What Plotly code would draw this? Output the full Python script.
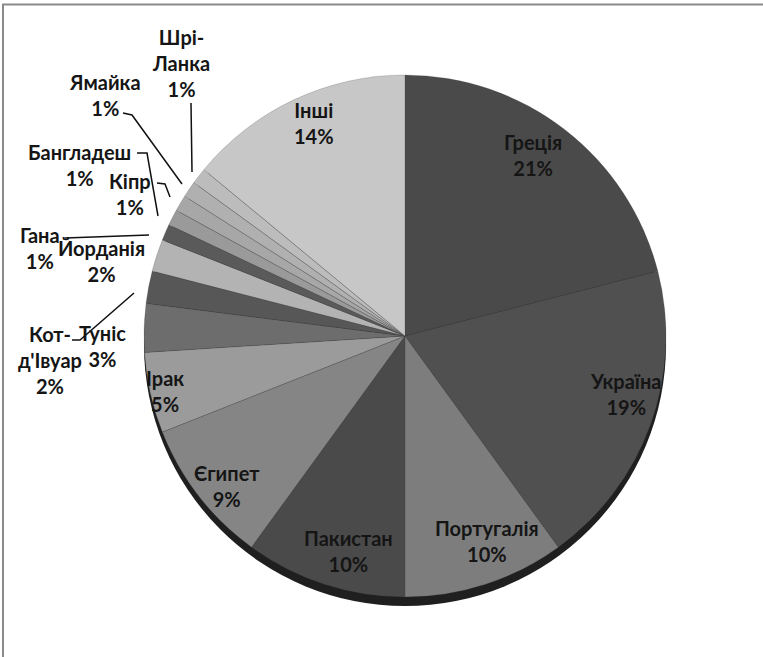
import plotly.graph_objects as go

# Share of each country, clockwise from 12 o'clock
countries = ["Греція", "Україна", "Португалія", "Пакистан", "Єгипет", "Ірак",
             "Туніс", "Кот-д'Івуар", "Йорданія", "Гана", "Бангладеш", "Кіпр",
             "Ямайка", "Шрі-Ланка", "Інші"]
shares = [21, 19, 10, 10, 9, 5, 3, 2, 2, 1, 1, 1, 1, 1, 14]
slice_colors = ["#4a4a4a", "#505050", "#7d7d7d", "#4a4a4a", "#858585", "#9b9b9b",
                "#6d6d6d", "#575757", "#b3b3b3", "#5a5a5a", "#9a9a9a", "#a7a7a7",
                "#b0b0b0", "#bcbcbc", "#c7c7c7"]

# How each label is broken into lines
label_lines = {"Кот-д'Івуар": "Кот-<br>д'Івуар", "Шрі-Ланка": "Шрі-<br>Ланка"}

# Label anchor points in pixels (x, y of the block centre)
label_pos = {
    "Греція": (533, 155), "Україна": (625, 394), "Португалія": (487, 541),
    "Пакистан": (348, 551), "Єгипет": (227, 486), "Ірак": (165, 391),
    "Туніс": (102, 346), "Кот-д'Івуар": (50, 360), "Йорданія": (101, 261),
    "Гана": (40, 248), "Бангладеш": (79, 165), "Кіпр": (130, 194),
    "Ямайка": (105, 95), "Шрі-Ланка": (181, 63), "Інші": (314, 123),
}

# Leader lines (pixel polylines) from outer labels to their slices
leaders = {
    "Шрі-Ланка": [(191, 103), (192, 172)],
    "Ямайка": [(123, 113), (132, 115), (182, 184)],
    "Бангладеш": [(137, 153), (147, 153), (158, 216)],
    "Кіпр": [(157, 183), (165, 184), (170, 197)],
    "Гана": [(65, 238), (149, 235)],
    "Кот-д'Івуар": [(72, 340), (80, 340), (134, 293)],
}

W, H = 763, 657
CX, CY, R = 405, 336, 261
RIM = 9


def px(x):
    return x / W


def py(y):
    return 1 - y / H


def dom(cy, r=R):
    return dict(x=[px(CX - r), px(CX + r)], y=[py(cy + r), py(cy - r)])


fig = go.Figure()

# soft shadow and dark rim under the pie face
fig.add_trace(go.Pie(values=[1], marker=dict(colors=["#e4e4e4"], line=dict(width=0)),
                     domain=dom(CY + RIM + 5, R - 6), textinfo="none", hoverinfo="skip",
                     showlegend=False, sort=False))
fig.add_trace(go.Pie(values=[1], marker=dict(colors=["#1f1f1f"], line=dict(width=0)),
                     domain=dom(CY + RIM), textinfo="none", hoverinfo="skip",
                     showlegend=False, sort=False))

fig.add_trace(go.Pie(
    labels=countries, values=shares, sort=False, direction="clockwise", rotation=0,
    marker=dict(colors=slice_colors, line=dict(width=0.6, color="rgba(60,60,60,0.35)")),
    textinfo="none", domain=dom(CY), showlegend=False,
))

font = dict(family="Lato, Liberation Sans, sans-serif", size=20, color="#151515")
total = sum(shares)
for name, val in zip(countries, shares):
    x, y = label_pos[name]
    pct = round(100 * val / total)
    fig.add_annotation(x=px(x), y=py(y), xref="paper", yref="paper",
                       text=f"<b>{label_lines.get(name, name)}<br>{pct}%</b>",
                       showarrow=False, font=font, align="center",
                       xanchor="center", yanchor="middle")

for name, pts in leaders.items():
    path = "M " + " L ".join(f"{px(x)} {py(y)}" for x, y in pts)
    fig.add_shape(type="path", path=path, xref="paper", yref="paper",
                  line=dict(color="#111111", width=1.5))

# chart frame
fig.add_shape(type="rect", xref="paper", yref="paper",
              x0=px(3), y0=-0.2, x1=1.2, y1=py(4.5),
              line=dict(color="#8a8a8a", width=2), fillcolor="rgba(0,0,0,0)")

fig.update_layout(width=W, height=H, margin=dict(l=0, r=0, t=0, b=0),
                  paper_bgcolor="white", plot_bgcolor="white")

fig.write_html("out.html")
